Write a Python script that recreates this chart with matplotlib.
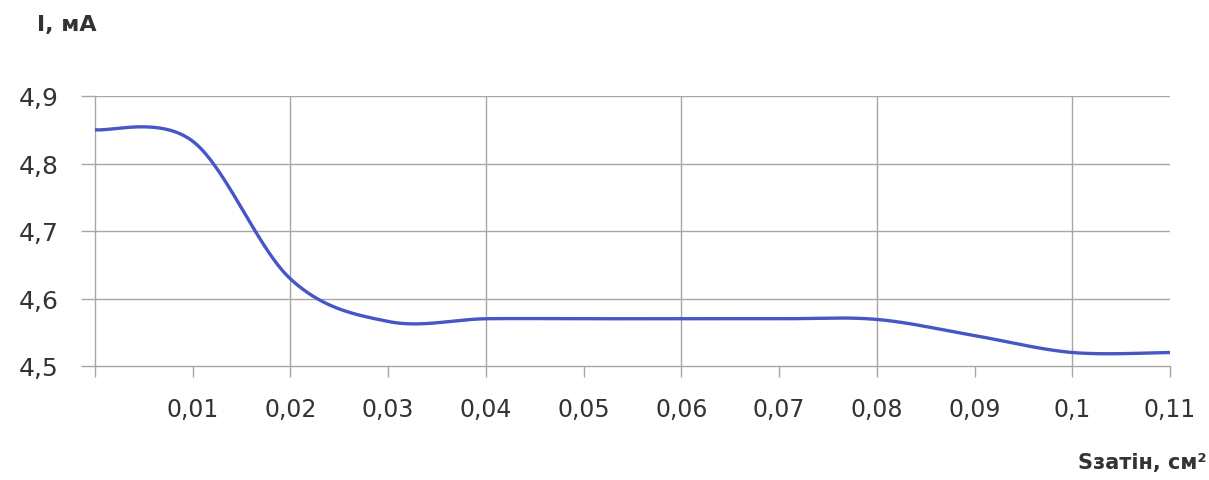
import numpy as np
import matplotlib
matplotlib.use("Agg")
import matplotlib.pyplot as plt
from matplotlib.ticker import FixedLocator

# Data
x_vals = [0.0, 0.01, 0.02, 0.03, 0.04, 0.05, 0.06, 0.07, 0.08, 0.09, 0.10, 0.11]
i_vals = [4.85, 4.833, 4.629, 4.566, 4.570, 4.570, 4.570, 4.570, 4.569, 4.545, 4.520, 4.520]
x_tick_labels = ["0,01", "0,02", "0,03", "0,04", "0,05", "0,06", "0,07", "0,08", "0,09", "0,1", "0,11"]
y_ticks = [4.5, 4.6, 4.7, 4.8, 4.9]
y_tick_labels = ["4,5", "4,6", "4,7", "4,8", "4,9"]


def excel_smooth(xs, ys, n=40):
    xs = np.asarray(xs, float)
    ys = np.asarray(ys, float)
    px = np.concatenate([[xs[0]], xs, [xs[-1]]])
    py = np.concatenate([[ys[0]], ys, [ys[-1]]])
    out_x, out_y = [], []
    for k in range(1, len(px) - 2):
        p0 = np.array([px[k - 1], py[k - 1]])
        p1 = np.array([px[k], py[k]])
        p2 = np.array([px[k + 1], py[k + 1]])
        p3 = np.array([px[k + 2], py[k + 2]])
        c1 = p1 + (p2 - p0) / 6.0
        c2 = p2 - (p3 - p1) / 6.0
        t = np.linspace(0, 1, n)[:, None]
        b = ((1 - t) ** 3) * p1 + 3 * ((1 - t) ** 2) * t * c1 + 3 * (1 - t) * t ** 2 * c2 + t ** 3 * p2
        out_x.extend(b[:, 0])
        out_y.extend(b[:, 1])
    return np.array(out_x), np.array(out_y)


plt.rcParams['font.family'] = ['DejaVu Sans']
txt = '#333333'
grid_c = '#a6a6a6'

fig = plt.figure(figsize=(12.09, 4.81), dpi=100)
ax = fig.add_axes([95 / 1209, 1 - 367 / 481, (1170 - 95) / 1209, (367 - 97) / 481])

sx, sy = excel_smooth(x_vals, i_vals)
ax.plot(sx, sy, color='#4556C6', lw=2.4, solid_capstyle='round', zorder=3)

ax.set_xlim(0, 0.11)
ax.set_ylim(4.5, 4.9)

# x ticks
ax.xaxis.set_major_locator(FixedLocator(x_vals[1:]))
ax.set_xticklabels(x_tick_labels)
ax.xaxis.set_minor_locator(FixedLocator([0.0]))
ax.tick_params(axis='x', which='both', direction='out', length=8, width=1, color=grid_c,
               labelsize=17, labelcolor=txt, pad=14)
ax.set_yticks(y_ticks)
ax.set_yticklabels(y_tick_labels)
ax.tick_params(axis='y', direction='out', length=10, width=1, color=grid_c,
               labelsize=18, labelcolor=txt, pad=16)

# gridlines
for yv in y_ticks[1:]:
    ax.axhline(yv, color=grid_c, lw=1, zorder=1)
for xv in [0.02, 0.04, 0.06, 0.08, 0.10]:
    ax.axvline(xv, color=grid_c, lw=1, zorder=1)

for s in ['top', 'right']:
    ax.spines[s].set_visible(False)
for s in ['left', 'bottom']:
    ax.spines[s].set_color(grid_c)
    ax.spines[s].set_linewidth(1)

fig.text(37 / 1209, 1 - 25 / 481, "I, мА", fontsize=16, fontweight='bold', color=txt,
         ha='left', va='center')
fig.text(1207 / 1209, 1 - 463 / 481, "Sзатін, см²", fontsize=15, fontweight='bold', color=txt,
         ha='right', va='center')

fig.savefig('out.png', dpi=100)
